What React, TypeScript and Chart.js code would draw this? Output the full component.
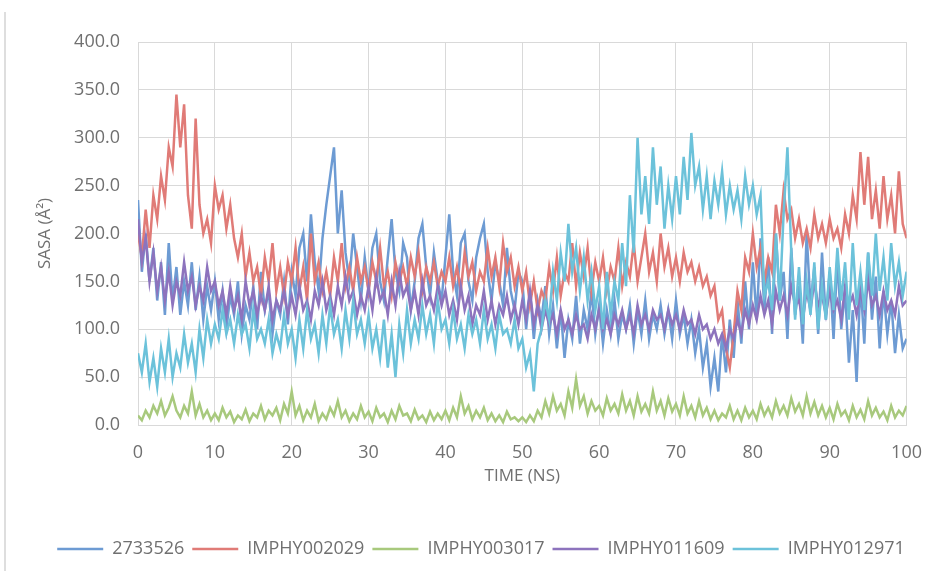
import React, { useEffect, useRef } from "react";
import { Chart, registerables } from "chart.js";

Chart.register(...registerables);

// Sampling grid: 0 .. 100 ns, every 0.5 ns
const TIME_NS: number[] = Array.from({ length: 201 }, (_, i) => i * 0.5);

const SERIES_NAMES = ["2733526", "IMPHY002029", "IMPHY003017", "IMPHY011609", "IMPHY012971"];
const SERIES_COLORS = ["#6d9bd3", "#e07b77", "#a8c97d", "#8d73bd", "#6cc2da"];

const SASA_2733526 = [
  235, 160, 200, 150, 185, 130, 170, 115, 190, 130, 165, 115, 150, 125, 170, 120, 155, 110, 145, 120,
  150, 110, 140, 100, 135, 115, 150, 95, 125, 110, 145, 100, 160, 120, 140, 95, 130, 115, 150, 105,
  160, 135, 185, 200, 150, 220, 170, 140, 195, 230, 260, 290, 200, 245, 180, 150, 200, 165, 130, 175,
  140, 185, 200, 150, 130, 175, 215, 160, 140, 190, 175, 120, 150, 195, 210, 165, 135, 180, 150, 130,
  175, 220, 160, 135, 190, 200, 150, 130, 175, 195, 210, 160, 130, 170, 150, 125, 185, 140, 120, 160,
  150, 100, 140, 90, 130, 110, 145, 95, 125, 80, 120, 70, 110, 90, 135, 85, 120, 100, 140, 95,
  125, 85, 120, 95, 130, 90, 115, 100, 125, 85, 120, 95, 130, 90, 115, 100, 125, 95, 120, 90,
  130, 95, 115, 85, 110, 75, 100, 60, 85, 40, 70, 35, 95, 55, 110, 70, 130, 85, 150, 100,
  170, 110, 195, 120, 175, 95, 200, 130, 160, 90, 185, 115, 145, 85, 200, 125, 165, 95, 180, 110,
  160, 90, 175, 100, 140, 65, 120, 45, 150, 85, 180, 110, 155, 80, 140, 95, 130, 75, 115, 80,
  90,
];

const SASA_IMPHY002029 = [
  200, 175, 225, 185, 240, 215, 260, 235, 290, 270, 345, 290, 335, 240, 205, 320, 230, 200, 215, 190,
  250, 225, 240, 205, 230, 195, 175, 200, 155, 180, 150, 165, 135, 175, 150, 190, 140, 165, 135, 170,
  150, 185, 140, 165, 130, 200, 150, 170, 140, 160, 135, 175, 150, 190, 145, 165, 140, 175, 150, 165,
  140, 170, 150, 185, 145, 160, 135, 170, 150, 165, 145, 175, 155, 180, 140, 165, 150, 170, 145, 160,
  150, 175, 145, 165, 140, 180, 155, 170, 140, 160, 150, 185, 155, 175, 145, 190, 160, 175, 145, 165,
  140, 160, 125, 150, 120, 140, 130, 165, 140, 175, 135, 160, 150, 190, 145, 180, 155, 185, 140, 170,
  150, 175, 140, 165, 150, 185, 145, 170, 155, 190, 150, 175, 200, 160, 180, 150, 200, 165, 185, 155,
  175, 150, 180, 160, 170, 150, 165, 145, 155, 135, 145, 110, 120, 80, 60, 95, 140, 120, 175, 160,
  200, 165, 185, 150, 175, 160, 230, 200, 245, 215, 225, 195, 215, 190, 205, 185, 220, 195, 210, 190,
  215, 195, 205, 185, 220, 200, 240, 215, 285, 230, 280, 215, 245, 205, 260, 215, 240, 200, 265, 210,
  195,
];

const SASA_IMPHY003017 = [
  10, 5, 15, 8, 20, 12, 25, 10, 18, 30, 15, 8, 20, 12, 35, 10, 22, 8, 15, 5,
  12, 5, 18, 8, 14, 3, 10, 6, 16, 4, 12, 8, 20, 6, 15, 10, 18, 5, 22, 12,
  35, 10, 20, 5, 15, 8, 22, 4, 12, 6, 18, 10, 25, 8, 15, 4, 12, 6, 20, 8,
  14, 4, 18, 8, 12, 3, 15, 6, 20, 10, 12, 4, 16, 6, 10, 3, 14, 5, 12, 6,
  15, 5, 18, 8, 30, 12, 20, 6, 15, 8, 18, 5, 12, 4, 10, 3, 14, 6, 8, 4,
  8, 3, 10, 4, 15, 8, 25, 12, 30, 15, 22, 10, 35, 18, 48, 20, 30, 12, 25, 15,
  20, 10, 28, 15, 22, 12, 32, 15, 25, 10, 30, 14, 22, 12, 35, 15, 25, 10, 28, 14,
  22, 10, 30, 12, 20, 8, 25, 10, 18, 6, 15, 5, 12, 8, 20, 6, 15, 5, 18, 8,
  15, 6, 22, 10, 18, 8, 25, 12, 20, 10, 28, 14, 22, 10, 30, 12, 24, 10, 20, 8,
  18, 6, 22, 10, 15, 5, 20, 8, 16, 6, 25, 10, 18, 8, 14, 5, 20, 8, 15, 10,
  20,
];

const SASA_IMPHY011609 = [
  215, 170, 195, 150, 180, 140, 165, 130, 160, 125, 150, 135, 170, 140, 155, 125, 145, 130, 165, 140,
  150, 125, 140, 115, 145, 120, 135, 110, 150, 125, 140, 115, 135, 120, 145, 110, 130, 120, 140, 115,
  135, 115, 145, 120, 130, 110, 140, 125, 150, 120, 135, 115, 145, 125, 155, 130, 140, 115, 135, 120,
  145, 120, 155, 130, 140, 115, 150, 125, 160, 135, 145, 120, 140, 115, 150, 125, 135, 120, 145, 125,
  140, 115, 130, 110, 145, 120, 135, 105, 125, 115, 140, 110, 130, 105, 125, 115, 135, 110, 125, 105,
  130, 110, 140, 105, 125, 100, 120, 105, 115, 95, 120, 100, 110, 95, 115, 100, 105, 90, 115, 100,
  120, 100, 110, 95, 115, 105, 120, 100, 115, 95, 125, 105, 115, 100, 120, 110, 115, 100, 120, 105,
  115, 100, 120, 105, 110, 95, 115, 100, 105, 90, 100, 85, 95, 80, 100, 90, 110, 95, 120, 105,
  125, 110, 135, 115, 130, 105, 140, 120, 135, 115, 145, 125, 130, 110, 140, 120, 150, 125, 135, 115,
  140, 120, 130, 110, 145, 125, 135, 115, 140, 120, 150, 125, 135, 115, 140, 120, 130, 115, 145, 125,
  130,
];

const SASA_IMPHY012971 = [
  75, 55, 85, 45, 70, 40, 80, 55, 90, 50, 75, 60, 95, 65, 85, 55, 100, 70, 110, 85,
  105, 90, 120, 95, 110, 85, 115, 95, 105, 80, 120, 90, 100, 85, 110, 75, 95, 80, 115, 85,
  100, 70, 110, 80, 120, 90, 105, 75, 115, 85, 125, 95, 110, 80, 120, 90, 130, 95, 110, 85,
  115, 80, 100, 70, 110, 60, 95, 50, 105, 75, 120, 85, 110, 90, 125, 95, 115, 85, 130, 100,
  110, 85, 120, 90, 105, 80, 115, 95, 110, 85, 120, 90, 105, 80, 115, 95, 100, 85, 110, 80,
  90, 60, 75, 35, 85, 100, 130, 110, 160, 130, 180, 150, 210, 160, 185, 140, 175, 130, 160, 120,
  145, 100, 160, 115, 150, 130, 190, 145, 240, 180, 300, 220, 260, 210, 290, 230, 270, 205, 250, 215,
  260, 220, 280, 235, 305, 250, 270, 225, 260, 215, 255, 230, 265, 220, 250, 225, 245, 215, 260, 230,
  250, 220, 240, 135, 150, 120, 200, 130, 220, 290, 180, 110, 165, 105, 150, 115, 170, 100, 145, 110,
  165, 120, 185, 130, 170, 110, 190, 125, 160, 120, 180, 135, 200, 140, 175, 130, 190, 145, 170, 135,
  160,
];

const SERIES_VALUES = [SASA_2733526, SASA_IMPHY002029, SASA_IMPHY003017, SASA_IMPHY011609, SASA_IMPHY012971];

const TEXT_COLOR = "#707070";
const GRID_COLOR = "#d9d9d9";
const FONT = "'Open Sans', 'Liberation Sans', sans-serif";

export default function App() {
  const canvasRef = useRef<HTMLCanvasElement>(null);

  useEffect(() => {
    if (!canvasRef.current) return;
    const chart = new Chart(canvasRef.current, {
      type: "line",
      data: {
        labels: TIME_NS,
        datasets: SERIES_NAMES.map((name, i) => ({
          label: name,
          data: SERIES_VALUES[i],
          borderColor: SERIES_COLORS[i],
          backgroundColor: SERIES_COLORS[i],
          borderWidth: 2.5,
          pointRadius: 0,
          tension: 0,
          fill: false,
          order: SERIES_NAMES.length - i,
        })),
      },
      options: {
        animation: false,
        responsive: false,
        maintainAspectRatio: false,
        layout: { padding: { left: 23, right: 0, top: 42, bottom: 3 } },
        font: { family: FONT },
        plugins: {
          legend: {
            position: "bottom",
            labels: {
              usePointStyle: true,
              pointStyle: "line",
              pointStyleWidth: 46,
              padding: 8,
              color: TEXT_COLOR,
              font: { family: FONT, size: 18 },
              sort: (a: any, b: any) => a.datasetIndex - b.datasetIndex,
            },
          },
          tooltip: { enabled: false },
          title: { display: false },
        },
        scales: {
          x: {
            type: "linear",
            min: 0,
            max: 100,
            ticks: {
              stepSize: 10,
              padding: 17,
              color: TEXT_COLOR,
              font: { family: FONT, size: 18 },
              maxRotation: 0,
            },
            grid: { color: GRID_COLOR, drawTicks: false, lineWidth: 1 },
            border: { color: GRID_COLOR },
            title: {
              display: true,
              text: "TIME (NS)",
              color: TEXT_COLOR,
              font: { family: FONT, size: 17 },
              padding: { top: 0, bottom: 46 },
            },
            afterFit: (scale: any) => {
              scale.height = 107;
            },
          },
          y: {
            type: "linear",
            min: 0,
            max: 400,
            ticks: {
              stepSize: 50,
              padding: 18,
              color: TEXT_COLOR,
              font: { family: FONT, size: 18 },
              callback: (v: any) => Number(v).toFixed(1),
            },
            grid: { color: GRID_COLOR, drawTicks: false, lineWidth: 1 },
            border: { color: GRID_COLOR },
            title: {
              display: true,
              text: "SASA (Å²)",
              color: TEXT_COLOR,
              font: { family: FONT, size: 17 },
              padding: { top: 12, bottom: 0 },
            },
            afterFit: (scale: any) => {
              scale.width = 115;
            },
          },
          y2: {
            type: "linear",
            position: "right",
            display: true,
            grid: { display: false, drawTicks: false },
            ticks: { display: false },
            border: { display: false },
            afterFit: (scale: any) => {
              scale.width = 28;
            },
          },
        },
      } as any,
    });
    return () => chart.destroy();
  }, []);

  return (
    <div style={{ position: "absolute", left: 0, top: 0, width: 939, height: 571, background: "#ffffff" }}>
      <div style={{ position: "absolute", left: 4, top: 12, width: 2, height: 559, background: "#dedede" }} />
      <canvas
        ref={canvasRef}
        width={939}
        height={571}
        style={{ position: "absolute", left: 0, top: 0, display: "block" }}
      />
    </div>
  );
}
